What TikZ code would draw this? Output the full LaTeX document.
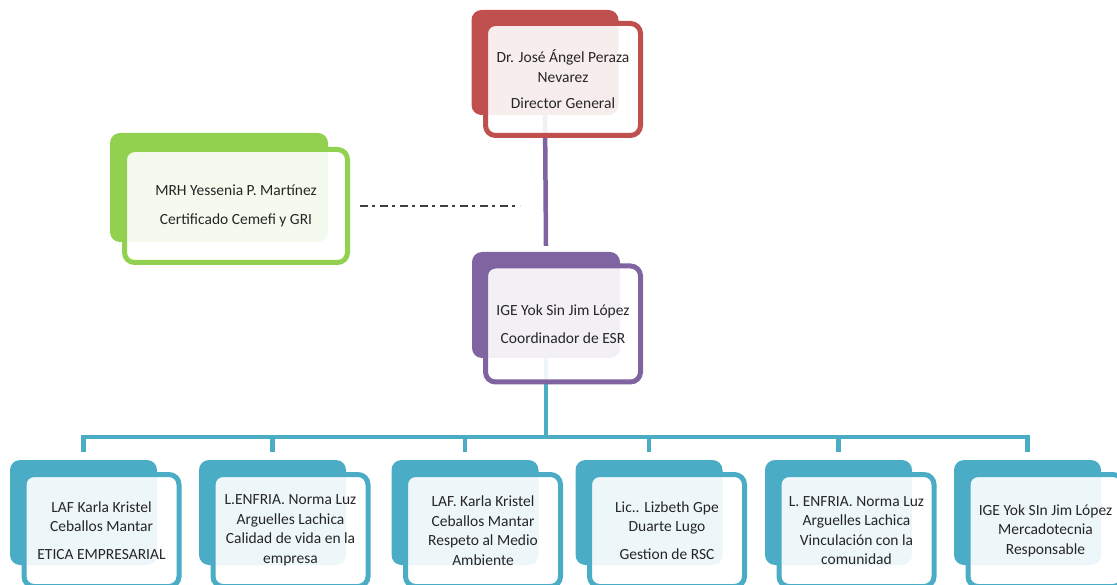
\documentclass[tikz,border=0pt]{standalone}
\usepackage{fontspec}
\setmainfont{Carlito}
\usepackage{tikz}
\usetikzlibrary{positioning,calc}
\definecolor{boxred}{HTML}{C0504D}
\definecolor{boxgreen}{HTML}{92D050}
\definecolor{boxpurple}{HTML}{8064A2}
\definecolor{boxteal}{HTML}{4BACC6}

\begin{document}
\begin{tikzpicture}[x=1pt, y=-1pt,
    back/.style={rectangle, rounded corners=10pt, minimum width=147pt, minimum height=105pt},
    front/.style={rectangle, draw, rounded corners=10pt, line width=5pt, fill=white, fill opacity=0.9, text opacity=1,
        minimum width=155pt, minimum height=112pt, align=center, text=black!85,
        font=\fontsize{15.5}{19.5}\selectfont},
    link/.style={line width=4.5pt},
]
    \clip (0,0) rectangle (1117,585);
    \useasboundingbox (0,0) rectangle (1117,585);

    \node[back, fill=boxred] (rb) at (545,62.5) {};
    \node[back, fill=boxgreen, minimum width=218pt, minimum height=109pt] (gb) at (219,187.5) {};
    \node[back, fill=boxpurple, minimum width=148pt, minimum height=106pt] (pb) at (546,305) {};
    \foreach \i/\x in {1/83.5, 2/272.5, 3/465, 4/649, 5/838.5, 6/1027.5}
        \node[back, fill=boxteal] (b\i) at (\x,512.5) {};

    \coordinate (bar) at (546,437);
    \draw[link, boxpurple] (rb.south) -- ([yshift=6pt]pb.north);
    \draw[link, boxteal] (pb.south) -- (bar);
    \draw[link, boxteal] ([yshift=8pt]b1.north) |- (bar) -| ([yshift=8pt]b6.north);
    \foreach \i in {2,...,5}
        \draw[link, boxteal] (bar -| b\i.north) -- ([yshift=8pt]b\i.north);

    \node[front, draw=boxred] (rf) at (563,79.5) {%
        Dr. José Ángel Peraza\\
        Nevarez\\[7pt]
        Director General%
    };

    \node[front, draw=boxgreen, minimum width=223pt, minimum height=113pt] (gf) at (236,206) {%
        MRH Yessenia P. Martínez\\[9pt]
        Certificado Cemefi y GRI%
    };

    \coordinate (dd) at (520,206);
    \draw[line width=2pt, black!75, dash pattern=on 8pt off 4pt on 3pt off 5pt] ([xshift=10pt]gf.east) -- (dd);

    \node[front, draw=boxpurple, minimum height=116pt] (pf) at (563,324) {%
        IGE Yok Sin Jim López\\[8pt]
        Coordinador de ESR%
    };

    \node[front, draw=boxteal] (f1) at (101.5,530.5) {%
        LAF Karla Kristel\\
        Ceballos Mantar\\[8pt]
        ETICA EMPRESARIAL%
    };

    \node[front, draw=boxteal] (f2) at (290.5,530.5) {%
        L.ENFRIA. Norma Luz\\
        Arguelles Lachica\\
        Calidad de vida en la\\
        empresa%
    };

    \node[front, draw=boxteal] (f3) at (483,530.5) {%
        LAF. Karla Kristel\\
        Ceballos Mantar\\
        Respeto al Medio\\
        Ambiente%
    };

    \node[front, draw=boxteal] (f4) at (667,530.5) {%
        Lic.. Lizbeth Gpe\\
        Duarte Lugo\\[8pt]
        Gestion de RSC%
    };

    \node[front, draw=boxteal] (f5) at (856.5,530.5) {%
        L. ENFRIA. Norma Luz\\
        Arguelles Lachica\\
        Vinculación con la\\
        comunidad%
    };

    \node[front, draw=boxteal] (f6) at (1045.5,530.5) {%
        IGE Yok SIn Jim López\\
        Mercadotecnia\\
        Responsable%
    };
\end{tikzpicture}
\end{document}
